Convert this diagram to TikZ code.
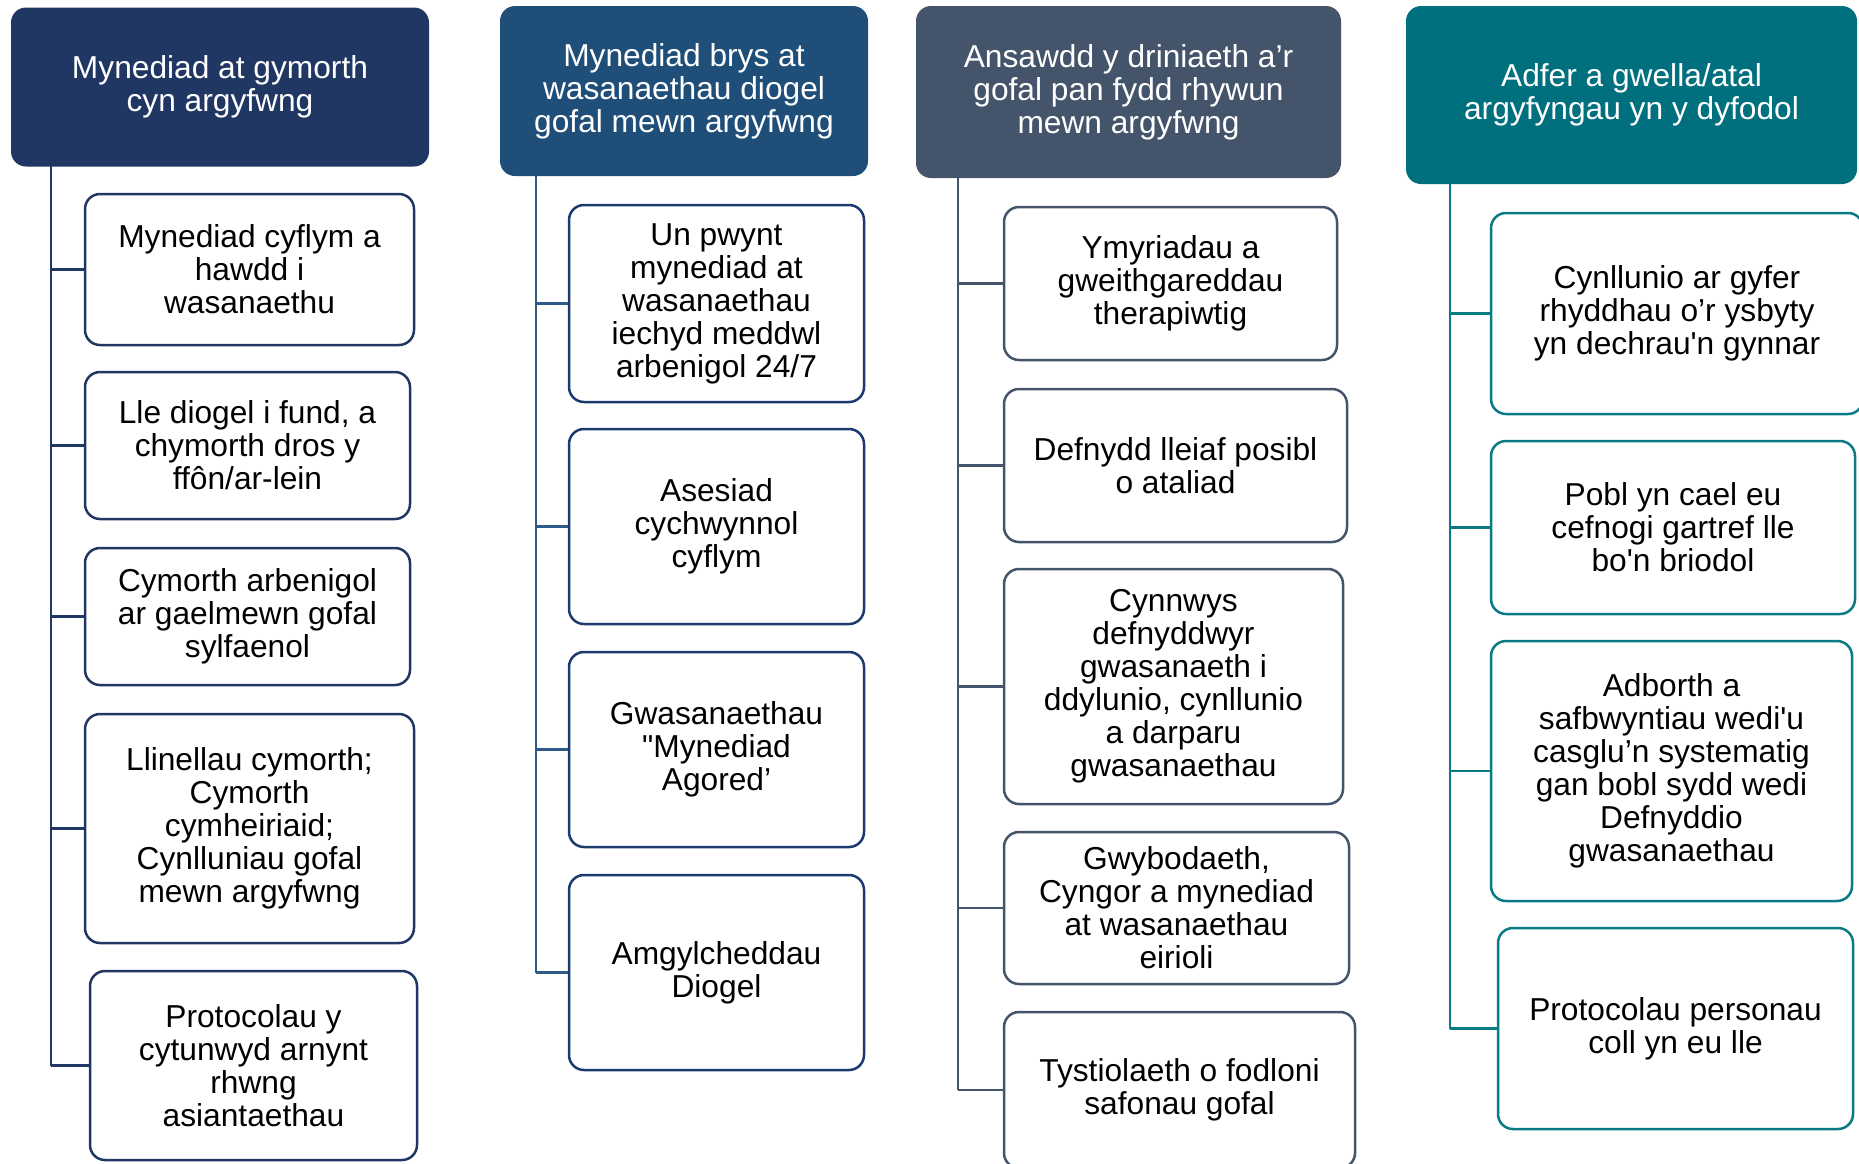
\documentclass[tikz,border=0pt]{standalone}
\usepackage{fontspec}
\setmainfont{Liberation Sans}
\usepackage{tikz}
\usetikzlibrary{positioning}
\definecolor{navyhead}{HTML}{213763}
\definecolor{bluehead}{HTML}{1F4E79}
\definecolor{bluebox}{HTML}{1C3A6E}
\definecolor{bluetrunk}{HTML}{2E5A87}
\definecolor{slatehead}{HTML}{44546A}
\definecolor{tealhead}{HTML}{00707F}
\definecolor{tealline}{HTML}{0A7A85}

\begin{document}
\begin{tikzpicture}[x=1pt,y=-1pt,
  every node/.style={font=\fontsize{31.7}{33}\selectfont, align=center, inner sep=0pt},
  head/.style={fill=#1, text=white, rounded corners=15pt},
  item/.style={draw=#1, fill=white, line width=2.5pt, rounded corners=15pt},
  trunk/.style={draw=#1, line width=2.5pt}]
\useasboundingbox (0,0) rectangle (1859,1163);

% column 1
\node[head=navyhead, minimum width=418pt, minimum height=159pt] (h1) at (220,87) {Mynediad at gymorth\\cyn argyfwng};
\node[item=navyhead, minimum width=329pt, minimum height=151pt] (b11) at (249.5,269.5) {Mynediad cyflym a\\hawdd i\\wasanaethu};
\node[item=navyhead, minimum width=325pt, minimum height=147pt] (b12) at (247.5,445.5) {Lle diogel i fund, a\\chymorth dros y\\ffôn/ar-lein};
\node[item=navyhead, minimum width=325pt, minimum height=137pt] (b13) at (247.5,616.5) {Cymorth arbenigol\\ar gaelmewn gofal\\sylfaenol};
\node[item=navyhead, minimum width=329pt, minimum height=229pt] (b14) at (249.5,828.5) {Llinellau cymorth;\\Cymorth\\cymheiriaid;\\Cynlluniau gofal\\mewn argyfwng};
\node[item=navyhead, minimum width=327pt, minimum height=189pt] (b15) at (253.5,1065.5) {Protocolau y\\cytunwyd arnynt\\rhwng\\asiantaethau};
\coordinate (t1) at (51,165);
\draw[trunk=navyhead] (t1) -- (t1 |- b15.west);
\foreach \b in {b11,b12,b13,b14,b15}
  \draw[trunk=navyhead] (t1 |- \b.west) -- (\b.west);

% column 2
\node[head=bluehead, minimum width=368pt, minimum height=170pt] (h2) at (684,91) {Mynediad brys at\\wasanaethau diogel\\gofal mewn argyfwng};
\node[item=bluebox, minimum width=295pt, minimum height=197pt] (b21) at (716.5,303.5) {Un pwynt\\mynediad at\\wasanaethau\\iechyd meddwl\\arbenigol 24/7};
\node[item=bluebox, minimum width=295pt, minimum height=195pt] (b22) at (716.5,526.5) {Asesiad\\cychwynnol\\cyflym};
\node[item=bluebox, minimum width=295pt, minimum height=195pt] (b23) at (716.5,749.5) {Gwasanaethau\\\textquotedbl Mynediad\\Agored’};
\node[item=bluebox, minimum width=295pt, minimum height=195pt] (b24) at (716.5,972.5) {Amgylcheddau\\Diogel};
\coordinate (t2) at (536,176);
\draw[trunk=bluetrunk] (t2) -- (t2 |- b24.west);
\foreach \b in {b21,b22,b23,b24}
  \draw[trunk=bluetrunk] (t2 |- \b.west) -- (\b.west);

% column 3
\node[head=slatehead, minimum width=425pt, minimum height=172pt] (h3) at (1128.5,92) {Ansawdd y driniaeth a’r\\gofal pan fydd rhywun\\mewn argyfwng};
\node[item=slatehead, minimum width=333pt, minimum height=153pt] (b31) at (1170.5,283.5) {Ymyriadau a\\gweithgareddau\\therapiwtig};
\node[item=slatehead, minimum width=343pt, minimum height=153pt] (b32) at (1175.5,465.5) {Defnydd lleiaf posibl\\o ataliad};
\node[item=slatehead, minimum width=339pt, minimum height=235pt] (b33) at (1173.5,686.5) {Cynnwys\\defnyddwyr\\gwasanaeth i\\ddylunio, cynllunio\\a darparu\\gwasanaethau};
\node[item=slatehead, minimum width=345pt, minimum height=152pt] (b34) at (1176.5,908) {Gwybodaeth,\\Cyngor a mynediad\\at wasanaethau\\eirioli};
\node[item=slatehead, minimum width=351pt, minimum height=156pt] (b35) at (1179.5,1090) {Tystiolaeth o fodloni\\safonau gofal};
\coordinate (t3) at (958,178);
\draw[trunk=slatehead] (t3) -- (t3 |- b35.west);
\foreach \b in {b31,b32,b33,b34,b35}
  \draw[trunk=slatehead] (t3 |- \b.west) -- (\b.west);

% column 4
\node[head=tealhead, minimum width=451pt, minimum height=178pt] (h4) at (1631.5,95) {Adfer a gwella/atal\\argyfyngau yn y dyfodol};
\node[item=tealline, minimum width=372pt, minimum height=201pt] (b41) at (1677,313.5) {Cynllunio ar gyfer\\rhyddhau o’r ysbyty\\yn dechrau\textquotesingle n gynnar};
\node[item=tealline, minimum width=364pt, minimum height=173pt] (b42) at (1673,527.5) {Pobl yn cael eu\\cefnogi gartref lle\\bo\textquotesingle n briodol};
\node[item=tealline, minimum width=361pt, minimum height=260pt] (b43) at (1671.5,771) {Adborth a\\safbwyntiau wedi\textquotesingle u\\casglu’n systematig\\gan bobl sydd wedi\\Defnyddio\\gwasanaethau};
\node[item=tealline, minimum width=355pt, minimum height=201pt] (b44) at (1675.5,1028.5) {Protocolau personau\\coll yn eu lle};
\coordinate (t4) at (1450,184);
\draw[trunk=tealline] (t4) -- (t4 |- b44.west);
\foreach \b in {b41,b42,b43,b44}
  \draw[trunk=tealline] (t4 |- \b.west) -- (\b.west);
\end{tikzpicture}
\end{document}
